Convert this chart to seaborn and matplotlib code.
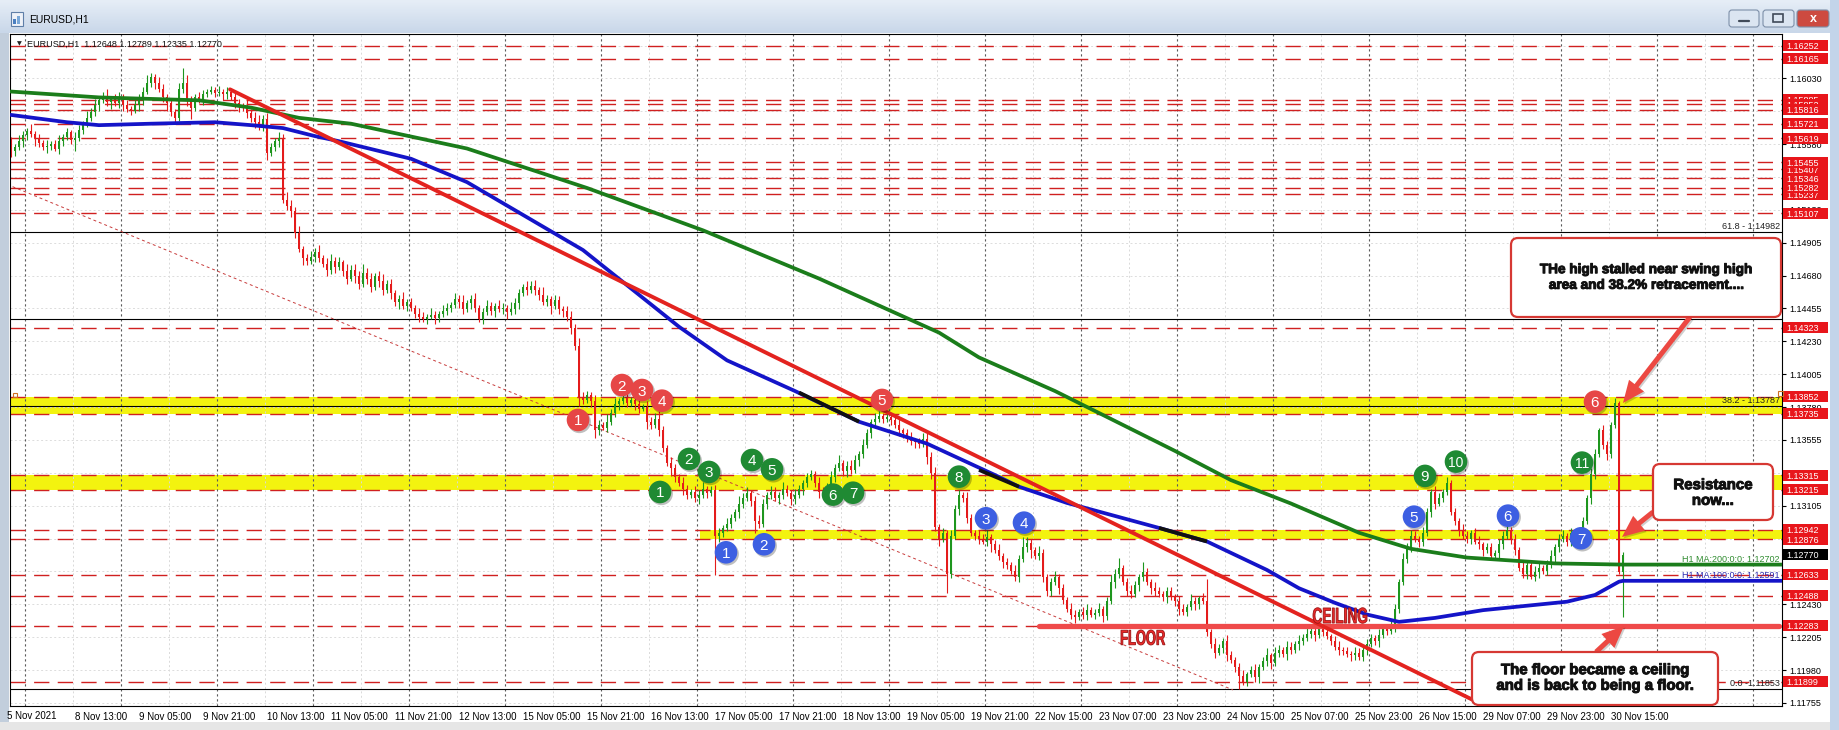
import numpy as np
import pandas as pd
import matplotlib
matplotlib.use("Agg")
import matplotlib.pyplot as plt
import matplotlib.transforms as mtransforms
import matplotlib.patheffects as pe
from matplotlib.colors import LinearSegmentedColormap
from matplotlib.patches import Rectangle, FancyBboxPatch, FancyArrow, PathPatch
from matplotlib.textpath import TextPath
from matplotlib.font_manager import FontProperties
import seaborn as sns

# ---- EURUSD H1 bars, prices as pips above 1.1000 (bar 0 = 8 Nov 13:00) ----
first_bar = -16
first_open = 560
close_pips = [
    553, 556, 560, 564, 567, 565, 562, 559, 556, 557,
    558, 555, 560, 563, 566, 561, 562, 568, 572, 576,
    580, 585, 588, 591, 587, 589, 586, 590, 585, 582,
    581, 585, 588, 594, 600, 604, 600, 596, 590, 586,
    580, 576, 596, 600, 588, 583, 590, 589, 592, 594,
    595, 593, 594, 592, 594, 590, 586, 584, 583, 579,
    576, 573, 570, 575, 552, 556, 560, 562, 520, 516,
    512, 497, 486, 480, 478, 481, 484, 480, 476, 472,
    478, 474, 477, 471, 466, 472, 468, 462, 470, 466,
    460, 468, 464, 458, 462, 456, 450, 452, 447, 450,
    446, 442, 440, 438, 440, 441, 439, 442, 444, 446,
    448, 452, 450, 445, 449, 452, 446, 438, 443, 447,
    444, 447, 445, 446, 443, 445, 449, 456, 460, 458,
    461, 458, 455, 450, 452, 447, 451, 445, 444, 440,
    432, 420, 384, 383, 386, 382, 362, 366, 364, 368,
    374, 380, 382, 384, 381, 383, 380, 377, 378, 368,
    366, 370, 362, 350, 340, 336, 330, 326, 322, 318,
    320, 316, 318, 322, 319, 321, 290, 292, 295, 298,
    302, 306, 312, 316, 319, 314, 300, 298, 312, 318,
    320, 316, 318, 322, 319, 315, 318, 322, 326, 330,
    332, 326, 320, 318, 324, 330, 336, 340, 334, 338,
    335, 342, 346, 352, 360, 368, 370, 372, 370, 371,
    369, 366, 362, 360, 356, 355, 354, 353, 356, 344,
    333, 296, 288, 292, 264, 290, 308, 318, 316, 302,
    292, 290, 288, 286, 289, 284, 280, 276, 272, 270,
    266, 262, 274, 282, 285, 280, 276, 278, 262, 252,
    258, 262, 254, 246, 240, 236, 234, 238, 236, 239,
    236, 237, 240, 235, 245, 258, 264, 268, 258, 252,
    250, 256, 262, 265, 258, 254, 252, 250, 248, 252,
    248, 245, 240, 238, 241, 245, 243, 247, 245, 224,
    216, 210, 213, 218, 208, 205, 200, 194, 190, 195,
    198, 193, 200, 204, 208, 203, 210, 212, 209, 214,
    212, 216, 218, 220, 223, 225, 222, 226, 224, 221,
    218, 214, 212, 211, 209, 208, 210, 207, 212, 216,
    220, 218, 222, 226, 225, 228, 240, 258, 274, 282,
    290, 288, 286, 292, 306, 320, 312, 316, 320, 326,
    306, 300, 294, 290, 288, 292, 286, 284, 280, 282,
    276, 278, 284, 290, 294, 288, 280, 268, 264, 270,
    262, 265, 268, 266, 270, 276, 282, 288, 290, 286,
    292, 290, 288, 300, 316, 332, 346, 362, 352, 346,
    366, 381, 265, 277,
]
wick_up = [
    3, 2, 4, 3, 2, 5, 2, 3, 2, 4,
    2, 3, 4, 2, 3, 2, 4, 3, 2, 5,
    3, 4, 2, 3, 5, 2, 3, 4, 2, 3,
    2, 3, 4, 3, 5, 3, 2, 4, 3, 2,
    3, 2, 4, 10, 5, 3, 2, 4, 3, 2,
    3, 2, 4, 2, 3, 2, 4, 3, 2, 5,
    3, 4, 5, 3, 4, 3, 2, 4, 3, 5,
    4, 3, 5, 2, 3, 4, 3, 5, 2, 4,
    5, 3, 4, 2, 5, 3, 4, 3, 6, 3,
    4, 2, 3, 5, 3, 4, 2, 3, 5, 2,
    3, 2, 4, 3, 2, 5, 3, 2, 4, 3,
    2, 4, 3, 5, 2, 3, 4, 2, 3, 4,
    3, 2, 4, 3, 2, 5, 4, 3, 2, 4,
    3, 4, 2, 5, 3, 2, 4, 3, 2, 3,
    4, 3, 5, 4, 3, 2, 4, 3, 2, 5,
    3, 4, 2, 3, 5, 2, 4, 3, 2, 4,
    3, 4, 5, 3, 2, 4, 3, 2, 4, 3,
    2, 4, 3, 5, 2, 3, 4, 3, 2, 4,
    3, 2, 5, 3, 4, 2, 3, 4, 3, 2,
    4, 3, 2, 5, 3, 2, 4, 3, 2, 3,
    3, 2, 4, 3, 2, 4, 3, 5, 2, 3,
    4, 3, 2, 4, 3, 2, 4, 3, 2, 3,
    2, 3, 4, 2, 3, 5, 2, 3, 4, 6,
    3, 4, 2, 3, 2, 4, 3, 3, 2, 4,
    3, 2, 4, 3, 5, 2, 3, 4, 2, 3,
    2, 4, 3, 7, 4, 3, 2, 5, 3, 2,
    3, 4, 2, 3, 2, 4, 3, 2, 3, 4,
    2, 3, 4, 2, 3, 5, 3, 7, 2, 3,
    4, 3, 2, 7, 3, 2, 4, 3, 2, 3,
    3, 2, 4, 3, 2, 5, 3, 2, 4, 15,
    2, 4, 3, 2, 4, 3, 2, 3, 4, 2,
    3, 4, 2, 3, 5, 2, 4, 3, 2, 4,
    3, 2, 4, 3, 5, 2, 3, 4, 2, 3,
    2, 3, 4, 2, 3, 2, 4, 3, 2, 3,
    3, 2, 4, 3, 2, 4, 3, 2, 4, 3,
    4, 3, 2, 4, 3, 2, 4, 3, 2, 4,
    2, 3, 2, 4, 3, 2, 3, 4, 2, 3,
    3, 2, 4, 3, 4, 2, 3, 2, 4, 3,
    2, 4, 3, 2, 3, 4, 2, 3, 4, 2,
    3, 2, 4, 3, 2, 4, 3, 2, 4, 3,
    2, 3, 1, 2,
]
wick_dn = [
    4, 3, 2, 4, 3, 2, 5, 3, 2, 4,
    3, 2, 4, 3, 2, 3, 8, 2, 3, 2,
    2, 3, 4, 2, 3, 5, 2, 3, 4, 2,
    3, 2, 4, 3, 2, 3, 4, 2, 3, 5,
    3, 4, 2, 3, 4, 8, 2, 3, 4, 2,
    2, 3, 2, 4, 3, 2, 3, 4, 2, 3,
    3, 4, 2, 3, 5, 2, 3, 4, 2, 3,
    4, 3, 2, 5, 3, 2, 4, 3, 2, 4,
    3, 4, 2, 3, 4, 2, 5, 3, 2, 4,
    3, 2, 4, 3, 2, 4, 3, 5, 2, 3,
    2, 3, 4, 2, 3, 2, 4, 3, 2, 3,
    3, 2, 4, 3, 2, 4, 3, 2, 3, 2,
    3, 4, 2, 3, 5, 2, 3, 4, 2, 3,
    2, 3, 4, 2, 3, 5, 2, 3, 4, 3,
    4, 3, 5, 3, 2, 4, 5, 3, 2, 3,
    2, 3, 4, 2, 3, 2, 4, 3, 2, 5,
    3, 2, 4, 3, 2, 5, 3, 2, 4, 3,
    2, 3, 4, 2, 3, 2, 27, 4, 3, 2,
    3, 2, 4, 3, 2, 4, 8, 3, 2, 4,
    3, 2, 4, 3, 2, 4, 3, 2, 4, 3,
    2, 3, 4, 3, 2, 4, 3, 2, 3, 4,
    3, 2, 4, 3, 2, 3, 4, 2, 3, 2,
    3, 2, 4, 3, 2, 3, 4, 3, 2, 5,
    4, 3, 5, 2, 13, 3, 2, 4, 3, 3,
    2, 3, 4, 2, 3, 5, 2, 3, 4, 3,
    2, 3, 4, 2, 3, 5, 2, 3, 4, 3,
    3, 2, 4, 3, 2, 3, 4, 2, 3, 4,
    2, 3, 2, 4, 3, 2, 4, 3, 2, 3,
    3, 2, 4, 3, 2, 4, 3, 2, 3, 4,
    2, 3, 4, 2, 3, 2, 4, 3, 2, 3,
    3, 4, 2, 3, 4, 2, 3, 9, 2, 3,
    2, 3, 4, 2, 3, 4, 2, 3, 2, 4,
    3, 2, 4, 3, 2, 3, 4, 2, 3, 2,
    3, 2, 4, 3, 2, 4, 3, 2, 3, 4,
    2, 3, 4, 2, 3, 2, 4, 3, 2, 3,
    3, 2, 4, 3, 2, 3, 4, 2, 3, 2,
    2, 3, 4, 2, 3, 4, 2, 3, 4, 2,
    3, 2, 4, 3, 2, 4, 3, 2, 3, 4,
    2, 3, 4, 2, 3, 2, 4, 3, 2, 3,
    3, 2, 4, 3, 2, 4, 3, 2, 3, 4,
    3, 2, 1, 31,
]

# moving averages read at a few points (bar, pips)
ma200_bar = [-16, 6, 31, 44, 56, 69, 98, 128, 157, 186, 216, 226, 245, 275, 289, 304, 321, 334, 348, 370, 387, 427]
ma200_pips = [594, 590, 588, 583, 576, 572, 555, 528, 499, 466, 429, 412, 389, 348, 328, 312, 292, 281, 275, 271, 270.2, 270.2]
ma100_bar = [-16, -2, 6, 19, 35, 44, 52, 60, 66, 84, 98, 127, 151, 163, 180, 196, 213, 230, 236, 248, 271,
             283, 298, 306, 315, 323, 331, 340, 352, 365, 373, 380, 386, 387, 427]
ma100_pips = [578, 573, 571, 572, 573, 571, 569, 563.5, 560, 548, 532, 485.5, 433, 410, 389, 368, 353, 331.5,
              323.5, 312.4, 295.3, 286, 266.5, 254, 244, 236, 231, 233.7, 239, 242.6, 244.8, 249.4, 258.5, 259.1, 259.1]
black_seg_bar = [[181, 196], [226, 236], [271, 283]]
black_seg_pips = [[388, 368], [335, 323.5], [295.3, 286]]

# drawn objects
trend_bar = [38.75, 360]
trend_pips = [595.5, 163.4]
channel_bar = [-15.6, 289.5]
channel_pips = [528.9, 184.4]
floor_bar = [241, 426]
floor_price = 1.12283

level_prices = [1.15885, 1.15852, 1.15816, 1.16252, 1.16165, 1.15721, 1.15619, 1.15407, 1.15237,
                1.15455, 1.15346, 1.15282, 1.15107, 1.14323, 1.13852, 1.13735, 1.13315, 1.13215,
                1.12942, 1.12876, 1.12633, 1.12488, 1.12283, 1.11899]
last_price = 1.12770
zone_lo = [1.13735, 1.13215, 1.12876]
zone_hi = [1.13852, 1.13315, 1.12942]
zone_start = [-16.25, -16.25, 156.25]
fib_prices = [1.11853, 1.13787, 1.14385, 1.14982]
fib_text = ["0.0 -1.11853", "38.2 - 1.13787", "", "61.8 - 1.14982"]

x_labels = ["8 Nov 13:00", "9 Nov 05:00", "9 Nov 21:00", "10 Nov 13:00", "11 Nov 05:00", "11 Nov 21:00",
            "12 Nov 13:00", "15 Nov 05:00", "15 Nov 21:00", "16 Nov 13:00", "17 Nov 05:00", "17 Nov 21:00",
            "18 Nov 13:00", "19 Nov 05:00", "19 Nov 21:00", "22 Nov 15:00", "23 Nov 07:00", "23 Nov 23:00",
            "24 Nov 15:00", "25 Nov 07:00", "25 Nov 23:00", "26 Nov 15:00", "29 Nov 07:00", "29 Nov 23:00",
            "30 Nov 15:00"]

red_marks_bar = [125.75, 136.75, 141.75, 146.75, 201.75, 380]
red_marks_price = [1.13692, 1.13931, 1.13897, 1.13824, 1.13829, 1.13817]
green_marks_bar = [146.25, 153.5, 158.5, 169.25, 174.25, 189.5, 194.5, 221, 337.5, 345.25, 376.75]
green_marks_price = [1.13199, 1.13425, 1.13336, 1.13418, 1.13354, 1.13181, 1.13194, 1.13304, 1.13309, 1.13407, 1.13400]
blue_marks_bar = [162.75, 172.25, 227.75, 237.25, 334.75, 358.25, 376.5]
blue_marks_price = [1.12786, 1.12841, 1.13019, 1.12989, 1.13030, 1.13037, 1.12882]


def px(p):
    return 1.1 + np.asarray(p, dtype=float) / 1e4


sns.set_theme(style="white")
plt.rcParams['font.family'] = ['Liberation Sans', 'DejaVu Sans']

W, H = 1839, 730
L, R, T, B = 10, 1782, 34, 706
fig = plt.figure(figsize=(W / 100, H / 100), dpi=100, facecolor='white')
ax = fig.add_axes([L / W, 1 - B / H, (R - L) / W, (B - T) / H])
ax.set_facecolor('white')
ax.set_xlim(-16.25, 426.75)
ax.set_ylim(1.11734, 1.16334)

GREEN, RED = '#1e961e', '#e41b1b'

# candles
c = px(close_pips)
o = np.r_[px(first_open), c[:-1]]
bars = pd.DataFrame({
    'bar': np.arange(first_bar, first_bar + len(c)),
    'open': o, 'close': c,
    'high': np.maximum(o, c) + np.array(wick_up) / 1e4,
    'low': np.minimum(o, c) - np.array(wick_dn) / 1e4,
})
col = np.where(bars['close'] >= bars['open'], GREEN, RED)
ax.vlines(bars['bar'], bars['low'], bars['high'], colors=col, lw=0.8, zorder=2)
body = (bars['close'] - bars['open']).abs().clip(lower=0.00004)
ax.bar(bars['bar'], body, bottom=np.minimum(bars['open'], bars['close']), width=0.72,
       color=col, linewidth=0, zorder=2.1)

# grid
for k in range(-1, 18):
    ax.axvline(11.5 + 24 * k, color='#5a5a5a', lw=0.8, ls=(0, (2, 2.5)), zorder=0.8)
    ax.axvline(-0.5 + 24 * k, color='#d9d9d9', lw=0.7, ls=(0, (2, 2.5)), zorder=0.6)
yticks = 1.11755 + 0.00225 * np.arange(21)
for t in yticks:
    ax.axhline(t, color='#dcdcdc', lw=0.7, ls=(0, (2, 2.5)), zorder=0.6)

# zones & levels
for lo, hi, x0 in zip(zone_lo, zone_hi, zone_start):
    ax.fill_between([x0, 426.75], lo, hi, color='#f3f30f', lw=0, zorder=0.5)
for p in level_prices:
    ax.axhline(p, color='#d02020', lw=1.0, dashes=(11, 6), zorder=1)
for p in fib_prices:
    ax.axhline(p, color='black', lw=0.8, zorder=1.1)

# moving averages
sns.lineplot(x=ma200_bar, y=px(ma200_pips), ax=ax, color='#1b7d1b', linewidth=2.7, zorder=3)
sns.lineplot(x=ma100_bar, y=px(ma100_pips), ax=ax, color='#1414c8', linewidth=2.7, zorder=3)
for sb, sp in zip(black_seg_bar, black_seg_pips):
    ax.plot(sb, px(sp), color='#111111', lw=2.7, zorder=3.1, solid_capstyle='butt')

# trend lines
ax.plot(trend_bar, px(trend_pips), color='#e3231f', lw=2.8, zorder=3.5)
ax.plot(channel_bar, px(channel_pips), color='#c83c3c', lw=0.7, dashes=(3, 3), zorder=1.2)
ax.plot(floor_bar, [floor_price] * 2, color='#ef4a4a', lw=3.8, solid_capstyle='round', zorder=3.4)

# axes styling
for s in ax.spines.values():
    s.set_color('black')
    s.set_linewidth(0.8)
ax.yaxis.tick_right()
ax.set_yticks(yticks)
ax.set_yticklabels([f"{t:.5f}" for t in yticks])
ax.tick_params(axis='y', length=3, width=0.8, pad=2, labelsize=6.5, colors='black', direction='out')
ax.set_xticks(np.arange(0, 16 * len(x_labels), 16))
ax.set_xticklabels(x_labels, ha='left')
ax.tick_params(axis='x', length=3, width=0.8, pad=1.5, labelsize=7, colors='black', direction='out')
ax.set_xlabel('')
ax.set_ylabel('')

tf = mtransforms.blended_transform_factory(ax.transAxes, ax.transData)


def fx(p):
    return (p - L) / (R - L)


tag_h = 11 / 14609
z = 8.0
for p in level_prices:
    ax.add_patch(Rectangle((fx(1783), p - tag_h / 2), fx(1828) - fx(1783), tag_h, transform=tf,
                           fc='#e8161b', ec='none', clip_on=False, zorder=z))
    ax.text(fx(1786), p, f"{p:.5f}", transform=tf, color='white', fontsize=6.5, ha='left',
            va='center_baseline', clip_on=False, zorder=z + 0.01)
    z += 0.02
ax.add_patch(Rectangle((fx(1783), last_price - tag_h / 2), fx(1828) - fx(1783), tag_h, transform=tf,
                       fc='black', ec='none', clip_on=False, zorder=z))
ax.text(fx(1786), last_price, f"{last_price:.5f}", transform=tf, color='white', fontsize=6.5,
        ha='left', va='center_baseline', clip_on=False, zorder=z + 0.01)

for p, t in zip(fib_prices, fib_text):
    if t:
        ax.text(fx(1780), p + 0.00004, t, transform=tf, ha='right', va='bottom', fontsize=6.5,
                color='#222222', zorder=4)
ax.text(fx(1780), px(ma200_pips[-1]) + 0.00004, "H1 MA:200:0:0: 1.12702", transform=tf, ha='right',
        va='bottom', fontsize=6.5, color='#2e8b2e', zorder=4)
ax.text(fx(1780), px(ma100_pips[-1]) + 0.00004, "H1 MA:100:0:0: 1.12591", transform=tf, ha='right',
        va='bottom', fontsize=6.5, color='#2a2ab0', zorder=4)

# numbered swing markers
shadow = mtransforms.offset_copy(ax.transData, fig=fig, x=1.0, y=-1.2, units='points')
for xs, ys, colr in [(red_marks_bar, red_marks_price, '#e64646'),
                     (green_marks_bar, green_marks_price, '#1f8a33'),
                     (blue_marks_bar, blue_marks_price, '#3d5fe2')]:
    ax.scatter(xs, ys, s=275, color='#00000040', edgecolors='none', transform=shadow, zorder=6, clip_on=False)
    ax.scatter(xs, ys, s=265, color=colr, edgecolors='none', zorder=6.1, clip_on=False)
    for n, (xx, yy) in enumerate(zip(xs, ys), start=1):
        ax.text(xx, yy, str(n), color='white', fontsize=11 if n < 10 else 10, ha='center',
                va='center_baseline', zorder=6.2)

# ---- overlay in pixel coordinates: window frame, notes, arrows ----
ov = fig.add_axes([0, 0, 1, 1], zorder=10)
ov.axis('off')
title_cmap = LinearSegmentedColormap.from_list('tb', ['#e6eef7', '#c9d7e9'])
ov.imshow(np.linspace(0, 1, 50)[:, None], extent=(0, W, 33, 0), cmap=title_cmap, aspect='auto', zorder=0)
ov.set_xlim(0, W)
ov.set_ylim(H, 0)
ov.add_patch(Rectangle((0, 33), L - 1, H - 33, fc='#c2cedc', ec='none'))
ov.add_patch(Rectangle((1830, 0), 9, H, fc='#c3d4ea', ec='none'))
ov.add_patch(Rectangle((0, 722), 1830, 8, fc='#e6e6e6', ec='none'))
ov.add_patch(Rectangle((11, 12), 12, 14, fc='#eef2f8', ec='#5f7fa8', lw=0.8))
ov.add_patch(Rectangle((13, 19), 3, 5, fc='#4a7fc0', ec='none'))
ov.add_patch(Rectangle((17, 16), 3, 8, fc='#7aa8d8', ec='none'))
ov.text(29, 20, "EURUSD,H1", fontsize=7.5, ha='left', va='center', color='black')
for x0, w, fc in [(1729, 30, '#dbe5f1'), (1763, 31, '#dbe5f1'), (1797, 32, '#cd4a40')]:
    ov.add_patch(FancyBboxPatch((x0, 10), w, 17, boxstyle='round,pad=0,rounding_size=3', fc=fc,
                                ec='#7d8fa8', lw=0.8))
ov.plot([1739, 1749], [21, 21], color='#404a58', lw=1.6)
ov.add_patch(Rectangle((1773, 14), 10, 8, fill=False, ec='#404a58', lw=1.2))
ov.text(1813, 18.5, "x", fontsize=9, fontweight='bold', color='white', ha='center', va='center')
ov.text(19, 44, "\u25bc", fontsize=4.5, ha='center', va='center', color='#222222',
        family=['DejaVu Sans'])
ov.text(27, 44, "EURUSD,H1  1.12648 1.12789 1.12335 1.12770", fontsize=6.5, ha='left', va='center',
        color='#111111')
ov.text(7, 716, "5 Nov 2021", fontsize=7, ha='left', va='center', color='black')
ov.add_patch(Rectangle((13, 393), 4, 4, fill=False, ec='#d07020', lw=0.8))
ov.add_patch(Rectangle((1778, 391), 5, 5, fill=False, ec='#d07020', lw=0.8))

arrow_kw = dict(width=5, head_width=19, head_length=22, length_includes_head=True, fc='#ec4842', ec='none')
for (x0, y0), (x1, y1) in [((1690, 317), (1623, 403)), ((1653, 512), (1622, 537)),
                           ((1596, 652), (1624, 626))]:
    ov.add_patch(FancyArrow(x0 + 1.5, y0 + 1.5, x1 - x0, y1 - y0, **{**arrow_kw, 'fc': '#00000030'}))
    ov.add_patch(FancyArrow(x0, y0, x1 - x0, y1 - y0, **arrow_kw))

heavy = [pe.withStroke(linewidth=0.7, foreground='#111111')]
notes = [((1511, 238, 270, 79), (1646, 277), 9.8,
          "THe high stalled near swing high\narea and 38.2% retracement...."),
         ((1653, 464, 120, 56), (1713, 493), 10.8, "Resistance\nnow..."),
         ((1472, 652, 246, 53), (1595, 678), 10.8, "The floor became a ceiling\nand is back to being a floor.")]
for (x0, y0, w, h), (tx, ty), fs, txt in notes:
    ov.add_patch(FancyBboxPatch((x0, y0), w, h, boxstyle='round,pad=0,rounding_size=7', fc='white',
                                ec='#d63833', lw=1.6))
    ov.text(tx, ty, txt, fontsize=fs, fontweight='bold', ha='center', va='center', linespacing=1.15,
            color='#111111', path_effects=heavy)


def narrow_word(s, cx, cy, cap_px, width_px):
    # condensed bold caption, squeezed to the width seen on the chart
    tp = TextPath((0, 0), s, size=100, prop=FontProperties(family='Liberation Sans', weight='bold'))
    ext = tp.get_extents()
    tr = (mtransforms.Affine2D()
          .translate(-ext.x0 - ext.width / 2, -ext.y0 - ext.height / 2)
          .scale(width_px / ext.width, -cap_px / ext.height)
          .translate(cx, cy))
    ov.add_patch(PathPatch(tr.transform_path(tp), fc='#ec2a2a', ec='#9a1414', lw=0.6))


narrow_word("FLOOR", 1143, 637.5, 15, 44)
narrow_word("CEILING", 1340, 615.5, 15.5, 54)

fig.savefig('out.png', dpi=100)
